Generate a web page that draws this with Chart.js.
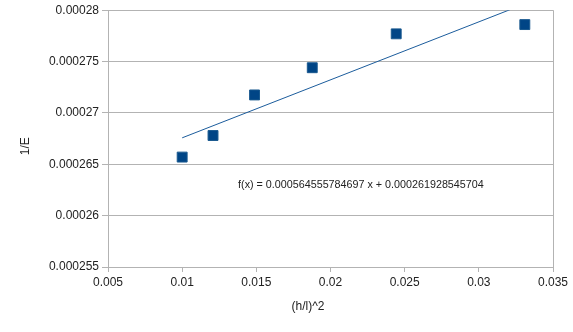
<!DOCTYPE html>
<html>
<head>
<meta charset="utf-8">
<script src="https://cdn.jsdelivr.net/npm/chart.js@4/dist/chart.umd.min.js"></script>
<style>
  html, body { margin: 0; padding: 0; background: #fff; }
  #wrap { width: 573px; height: 332px; }
</style>
</head>
<body>
<div id="wrap"><canvas id="grafico"></canvas></div>
<script>
// ========================
// DATOS
// ========================
const xValues = [0.01, 0.01208, 0.01488, 0.01877, 0.02443, 0.0331];
const yValues = [0.0002657, 0.0002678, 0.00027175, 0.0002744, 0.0002777, 0.0002786];

const slope = 0.000564555784697;
const intercept = 0.000261928545704;

const xTickLabels = ["0.005", "0.01", "0.015", "0.02", "0.025", "0.03", "0.035"];
const yTickLabels = ["0.000255", "0.00026", "0.000265", "0.00027", "0.000275", "0.00028"];

const xTitulo = "(h/l)^2";
const yTitulo = "1/E";

const gris = "#b3b3b3";
const azul = "#004586";
const texto = "#222";
const familia = "'Liberation Sans', Arial, sans-serif";
const fuente = { family: familia, size: 12 };

// puntos de la serie
const puntos = xValues.map((x, i) => ({ x: x, y: yValues[i] }));

// linea de tendencia entre el x minimo y maximo
const xMin = Math.min(...xValues);
const xMax = Math.max(...xValues);
const tendencia = [
  { x: xMin, y: slope * xMin + intercept },
  { x: xMax, y: slope * xMax + intercept }
];

const ecuacion = "f(x) = " + slope + " x + " + intercept;

// ========================
// TEXTOS: ecuacion y titulos de ejes
// ========================
const textosPlugin = {
  id: "textos",
  afterDatasetsDraw(chart) {
    const ctx = chart.ctx;
    const area = chart.chartArea;
    ctx.save();
    ctx.fillStyle = texto;
    ctx.textAlign = "center";
    ctx.textBaseline = "middle";

    // ecuacion de la tendencia
    const px = chart.scales.x.getPixelForValue(0.02205);
    const py = chart.scales.y.getPixelForValue(0.00026294);
    ctx.font = "10.75px " + familia;
    ctx.fillText(ecuacion, px, py);

    // titulo eje x
    ctx.font = "12px " + familia;
    ctx.fillText(xTitulo, area.left + 200, area.bottom + 40);

    // titulo eje y (rotado)
    ctx.translate(26, area.top + 136);
    ctx.rotate(-Math.PI / 2);
    ctx.fillText(yTitulo, 0, 0);
    ctx.restore();
  }
};

new Chart(document.getElementById("grafico").getContext("2d"), {
  type: "scatter",
  data: {
    datasets: [
      {
        label: yTitulo,
        data: puntos,
        pointStyle: "rect",
        pointRadius: 7,
        pointHoverRadius: 7,
        backgroundColor: azul,
        borderColor: "#19598f",
        borderWidth: 1,
        showLine: false,
        order: 1
      },
      {
        label: "tendencia",
        data: tendencia,
        showLine: true,
        pointRadius: 0,
        borderColor: "#1b5c9c",
        borderWidth: 1,
        order: 2
      }
    ]
  },
  options: {
    responsive: true,
    maintainAspectRatio: false,
    animation: false,
    events: [],
    layout: { padding: { top: 10, right: 20, left: 0, bottom: 0 } },
    plugins: {
      legend: { display: false },
      tooltip: { enabled: false }
    },
    scales: {
      x: {
        type: "linear",
        min: 0.005,
        max: 0.035,
        ticks: {
          stepSize: 0.005,
          color: texto,
          font: fuente,
          padding: 3,
          maxRotation: 0,
          callback: (v, i) => xTickLabels[i]
        },
        grid: {
          // solo el borde derecho, sin lineas verticales internas
          color: (c) => (c.index === xTickLabels.length - 1 ? gris : "transparent"),
          tickColor: gris,
          tickLength: 5
        },
        border: { color: gris },
        afterFit(scale) { scale.height = 65; }
      },
      y: {
        type: "linear",
        min: 0.000255,
        max: 0.00028,
        ticks: {
          stepSize: 0.000005,
          color: texto,
          font: fuente,
          padding: 3,
          callback: (v, i) => yTickLabels[i]
        },
        grid: {
          color: gris,
          tickColor: gris,
          tickLength: 6
        },
        border: { color: gris },
        afterFit(scale) { scale.width = 108; }
      }
    }
  },
  plugins: [textosPlugin]
});
</script>
</body>
</html>
